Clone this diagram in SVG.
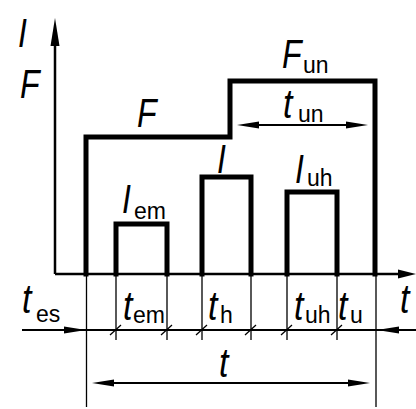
<svg xmlns="http://www.w3.org/2000/svg" width="416" height="409" viewBox="0 0 416 409">
<style>
.m{font-family:"Liberation Sans",Arial,sans-serif;font-style:italic;font-size:40px;fill:#000}
.s{font-family:"Liberation Sans",Arial,sans-serif;font-size:23px;fill:#000}
.thick{fill:none;stroke:#000;stroke-width:5;stroke-linejoin:miter;stroke-linecap:square}
.axis{fill:none;stroke:#000;stroke-width:2.5}
.thin{fill:none;stroke:#000;stroke-width:1.3}
.dim{fill:none;stroke:#000;stroke-width:2}
.ah{fill:#000;stroke:none}
</style>
<rect width="416" height="409" fill="#fff"/>
<g id="connectors">
  <path class="axis" d="M55,274 V40 M55,274 H402"/>
  <polygon class="ah" points="55,18 59.5,46 50.5,46"/>
  <polygon class="ah" points="416,274 398,278.5 398,269.5"/>
  <path class="thin" d="M86.5,274 V407 M376,274 V407 M116,274 V340 M167,274 V340 M202,274 V340 M251,274 V340 M287,274 V340 M337,274 V340"/>
  <path class="dim" d="M22,330 H416"/>
  <polygon class="ah" points="86,330 64,333.5 64,326.5"/>
  <polygon class="ah" points="377,330 399,333.5 399,326.5"/>
  <path class="thin" d="M110,335 L121,325 M161,335 L172,325 M196,335 L207,325 M245,335 L256,325 M281,335 L292,325 M331,335 L342,325"/>
  <path class="dim" d="M100,383 H362"/>
  <polygon class="ah" points="92,383 114,386.5 114,379.5"/>
  <polygon class="ah" points="370,383 348,386.5 348,379.5"/>
  <path class="dim" d="M245,125 H360"/>
  <polygon class="ah" points="237,125 259,128.5 259,121.5"/>
  <polygon class="ah" points="368,125 346,128.5 346,121.5"/>
</g>
<g id="F-curve"><path class="thick" d="M86,274 V137 H230 V81 H375 V274"/></g>
<g id="pulse-em"><path class="thick" d="M116,274 V224 H167 V274"/></g>
<g id="pulse-h"><path class="thick" d="M202,274 V177 H251 V274"/></g>
<g id="pulse-uh"><path class="thick" d="M287,274 V192 H337 V274"/></g>
<g id="labels">
  <text class="m" transform="translate(18,47) scale(0.8,1)">I</text>
  <text class="m" transform="translate(20,98) scale(0.8,1)">F</text>
  <text class="m" transform="translate(137,127) scale(0.8,1)">F</text>
  <text class="m" transform="translate(282,68) scale(0.8,1)">F</text><text class="s" x="303" y="73">un</text>
  <text class="m" transform="translate(283,118) scale(0.85,1)">t</text><text class="s" x="298" y="122">un</text>
  <text class="m" transform="translate(217,173) scale(0.8,1)">I</text>
  <text class="m" transform="translate(122,213) scale(0.8,1)">I</text><text class="s" x="134" y="219">em</text>
  <text class="m" transform="translate(295,183) scale(0.8,1)">I</text><text class="s" x="307" y="186">uh</text>
  <text class="m" transform="translate(22,313) scale(0.85,1)">t</text><text class="s" x="36" y="322">es</text>
  <text class="m" transform="translate(123,320) scale(0.85,1)">t</text><text class="s" x="133" y="323">em</text>
  <text class="m" transform="translate(208,320) scale(0.85,1)">t</text><text class="s" x="220" y="323">h</text>
  <text class="m" transform="translate(294,320) scale(0.85,1)">t</text><text class="s" x="305" y="323">uh</text>
  <text class="m" transform="translate(338,320) scale(0.85,1)">t</text><text class="s" x="350" y="323">u</text>
  <text class="m" transform="translate(400,313) scale(0.85,1)">t</text>
  <text class="m" transform="translate(219,377) scale(0.85,1)">t</text>
</g>
</svg>
